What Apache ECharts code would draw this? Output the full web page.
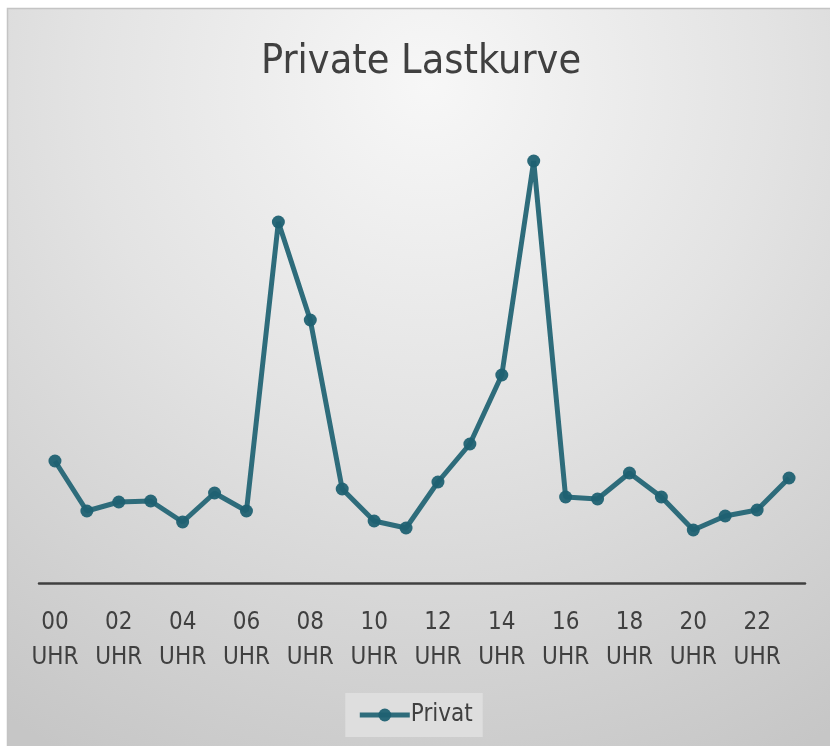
<!DOCTYPE html>
<html>
<head>
<meta charset="utf-8">
<script src="https://cdn.jsdelivr.net/npm/echarts@6/dist/echarts.min.js"></script>
<style>
html,body{margin:0;padding:0;background:#fff;}
#chart{width:830px;height:746px;}
</style>
</head>
<body>
<div id="chart"></div>
<script>
const hours = ['00','01','02','03','04','05','06','07','08','09','10','11','12','13','14','15','16','17','18','19','20','21','22','23'];
const categories = hours.map(h => h + '\nUHR');
const privat = [1.22,0.72,0.81,0.82,0.61,0.90,0.72,3.61,2.63,0.94,0.62,0.55,1.01,1.39,2.08,4.22,0.86,0.84,1.10,0.86,0.53,0.67,0.73,1.05];
const seriesName = 'Privat';
const titleText = 'Private Lastkurve';

const FONT = "'DejaVu Sans Condensed',sans-serif";
const chart = echarts.init(document.getElementById('chart'));
chart.setOption({
  backgroundColor: '#ffffff',
  animation: false,
  graphic: [{
    type: 'rect', z: -10, silent: true,
    shape: { x: 7.5, y: 8.5, width: 840, height: 760 },
    style: {
      stroke: '#c4c4c4', lineWidth: 1.5,
      fill: {
        type: 'radial', x: 0.5, y: 0.1, r: 1.0,
        colorStops: [{ offset: 0, color: '#f7f7f7' }, { offset: 0.45, color: '#e3e3e3' }, { offset: 1, color: '#c6c6c6' }]
      }
    }
  }],
  title: {
    text: titleText, left: 416, textAlign: 'center', top: 37,
    textStyle: { fontFamily: FONT, fontSize: 41, fontWeight: 'normal', color: '#404040' }
  },
  legend: {
    bottom: 9, left: 'center',
    data: [seriesName],
    backgroundColor: '#dedede',
    padding: [10, 10, 10, 12],
    itemWidth: 50, itemHeight: 16, itemGap: 0,
    lineStyle: { width: 5 },
    textStyle: { fontFamily: FONT, fontSize: 24, color: '#404040', padding: [0, 0, 0, -4] }
  },
  grid: { left: 39, right: 25, top: 133, bottom: 163, containLabel: false },
  xAxis: {
    type: 'category', data: categories, boundaryGap: true,
    axisLine: { lineStyle: { color: '#404040', width: 2.5 } },
    axisTick: { show: false },
    axisLabel: { interval: 1, margin: 22, fontFamily: FONT, fontSize: 24, lineHeight: 35, color: '#404040' }
  },
  yAxis: {
    type: 'value', min: 0, max: 4.5,
    axisLine: { show: false }, axisTick: { show: false }, axisLabel: { show: false }, splitLine: { show: false }
  },
  series: [{
    name: seriesName, type: 'line', data: privat,
    symbol: 'circle', symbolSize: 13,
    lineStyle: { color: '#2e6c7b', width: 5 },
    itemStyle: { color: '#1f6172', opacity: 0.95 },
    emphasis: { disabled: true }
  }]
});
</script>
</body>
</html>
